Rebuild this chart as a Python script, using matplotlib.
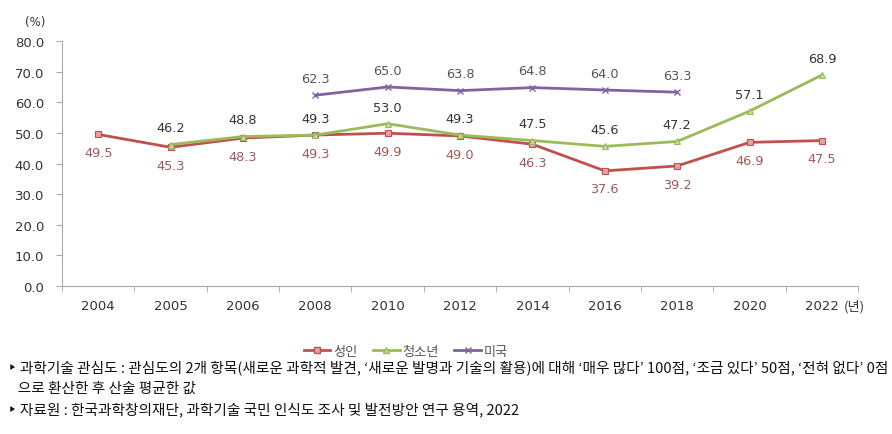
import numpy as np
import matplotlib
matplotlib.use("Agg")
import matplotlib.pyplot as plt
from matplotlib.lines import Line2D

plt.rcParams['font.family'] = ['DejaVu Sans', 'Noto Sans CJK KR']

years = ["2004", "2005", "2006", "2008", "2010", "2012", "2014", "2016", "2018", "2020", "2022"]
adult = [49.5, 45.3, 48.3, 49.3, 49.9, 49.0, 46.3, 37.6, 39.2, 46.9, 47.5]
youth = [np.nan, 46.2, 48.8, 49.3, 53.0, 49.3, 47.5, 45.6, 47.2, 57.1, 68.9]
usa = [np.nan, np.nan, np.nan, 62.3, 65.0, 63.8, 64.8, 64.0, 63.3, np.nan, np.nan]
series_names = ["성인", "청소년", "미국"]

x = np.arange(len(years))

fig = plt.figure(figsize=(8.92, 4.35), dpi=100)
ax = fig.add_axes([0.0695, 0.3402, 0.8925, 0.5632])

c_red = "#c0504d"
c_green = "#9bbb59"
c_purple = "#8064a2"

ax.plot(x, adult, color=c_red, lw=2, marker="s", ms=5, mfc="#e6a0a0", mec=c_red, mew=0.8)
ax.plot(x, youth, color=c_green, lw=2, marker="^", ms=5, mfc="#c8dca0", mec=c_green, mew=0.8)
ax.plot(x, usa, color=c_purple, lw=2, marker="x", ms=5, mec=c_purple, mew=1)

lab_fs = 9.3
for xi, v in zip(x, adult):
    ax.annotate(f"{v:.1f}", (xi, v), xytext=(0, -13), textcoords="offset points",
                ha="center", va="center", fontsize=lab_fs, color="#a0585a")
for xi, v in zip(x, youth):
    if not np.isnan(v):
        ax.annotate(f"{v:.1f}", (xi, v), xytext=(0, 12), textcoords="offset points",
                    ha="center", va="center", fontsize=lab_fs, color="#333333")
for xi, v in zip(x, usa):
    if not np.isnan(v):
        ax.annotate(f"{v:.1f}", (xi, v), xytext=(0, 12), textcoords="offset points",
                    ha="center", va="center", fontsize=lab_fs, color="#555555")

ax.set_xlim(-0.5, len(years) - 0.5)
ax.set_ylim(0, 80)
ax.set_yticks(np.arange(0, 81, 10))
ax.set_yticklabels([f"{v:.1f}" for v in np.arange(0, 81, 10)], fontsize=9.5, color="#333333")
ax.set_xticks(x)
ax.set_xticklabels(years, fontsize=9.5, color="#333333")
ax.set_xticks(np.arange(-0.5, len(years), 1), minor=True)
ax.tick_params(axis="x", which="major", length=0, pad=9)
ax.tick_params(axis="x", which="minor", length=4, color="#aaaaaa", direction="out")
ax.tick_params(axis="y", length=4, color="#aaaaaa", pad=9)
for s in ["top", "right"]:
    ax.spines[s].set_visible(False)
for s in ["left", "bottom"]:
    ax.spines[s].set_color("#aaaaaa")

ax.annotate("(년)", (x[-1], 0), xycoords=("data", "axes fraction"), xytext=(16, -14.5),
            textcoords="offset points", fontsize=9.5, color="#333333",
            ha="left", va="center", family=["Noto Sans CJK KR"])
fig.text(0.04, 0.948, "(%)", fontsize=8.5, color="#333333", ha="center", va="center")

handles = [
    Line2D([], [], color=c_red, lw=2, marker="s", ms=4, mfc="#e6a0a0", mec=c_red),
    Line2D([], [], color=c_green, lw=2, marker="^", ms=4, mfc="#c8dca0", mec=c_green),
    Line2D([], [], color=c_purple, lw=2, marker="x", ms=4, mec=c_purple),
]
leg = fig.legend(handles, series_names, loc="center", bbox_to_anchor=(0.455, 0.19), ncol=3,
                 frameon=False, handlelength=2, handletextpad=0.2, columnspacing=1.2,
                 prop={"family": "Noto Sans CJK KR", "size": 9.5})
for t in leg.get_texts():
    t.set_color("#555555")

notes = [
    "‣ 과학기술 관심도 : 관심도의 2개 항목(새로운 과학적 발견, ‘새로운 발명과 기술의 활용)에 대해 ‘매우 많다’ 100점, ‘조금 있다’ 50점, ‘전혀 없다’ 0점",
    "   으로 환산한 후 산술 평균한 값",
    "‣ 자료원 : 한국과학창의재단, 과학기술 국민 인식도 조사 및 발전방안 연구 용역, 2022",
]
for i, n in enumerate(notes):
    fig.text(0.009, 1 - (368 + 21 * i) / 435, n, fontsize=10.55, color="#111111",
             ha="left", va="center", family=["Noto Sans CJK KR", "DejaVu Sans"])

fig.savefig("out.png", dpi=100)
